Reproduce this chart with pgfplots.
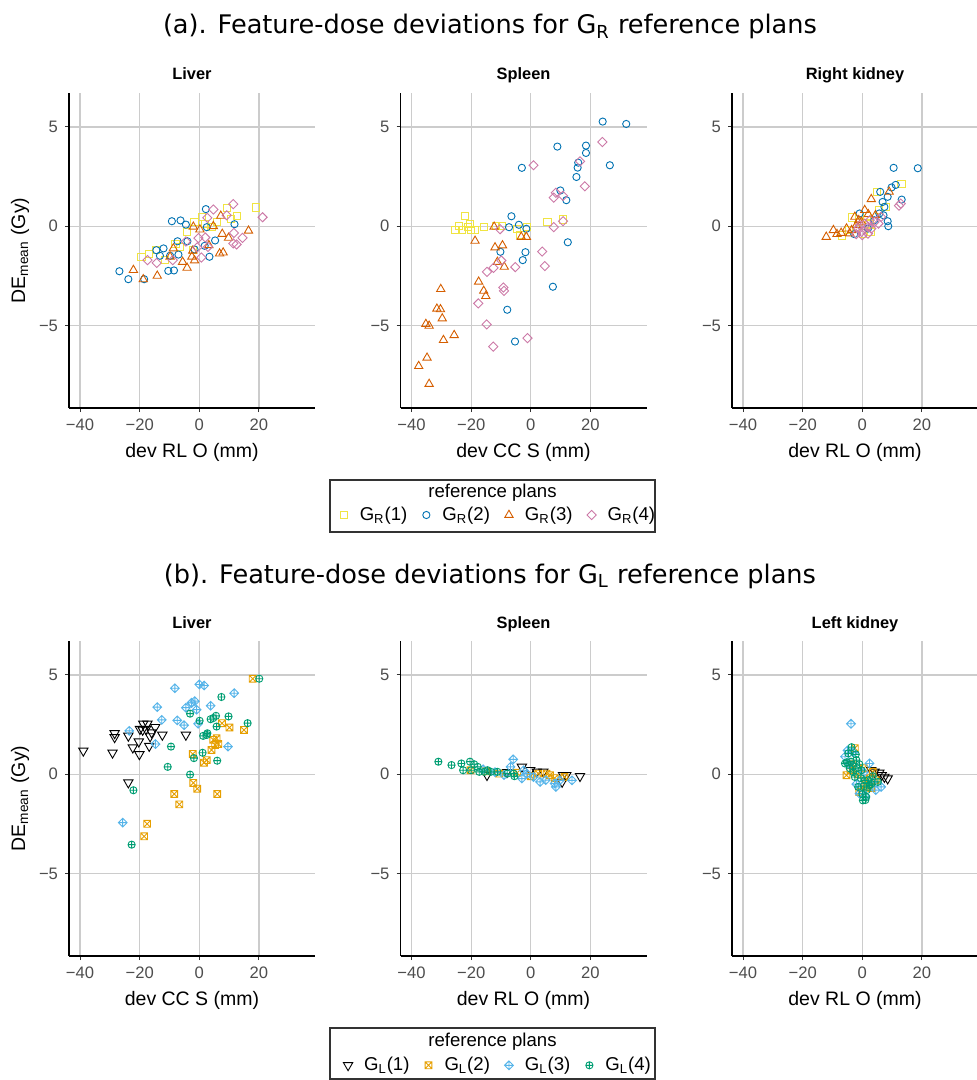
\documentclass[border=0pt]{standalone}
\usepackage{fontspec}
\setmainfont{Liberation Sans}
\newfontfamily\dejavu{DejaVu Sans}
\usepackage{pgfplots}
\pgfplotsset{compat=1.18}
\usetikzlibrary{plotmarks}
\definecolor{cY}{HTML}{F0E442}
\definecolor{cB}{HTML}{0072B2}
\definecolor{cO}{HTML}{D55E00}
\definecolor{cP}{HTML}{CC79A7}
\definecolor{cK}{HTML}{000000}
\definecolor{cA}{HTML}{E69F00}
\definecolor{cS}{HTML}{56B4E9}
\definecolor{cG}{HTML}{009E73}
\definecolor{gridc}{HTML}{CCCCCC}
\definecolor{tickc}{HTML}{4D4D4D}
\pgfdeclareplotmark{rdiamond}{%
 \pgfpathmoveto{\pgfqpoint{0pt}{\pgfplotmarksize}}%
 \pgfpathlineto{\pgfqpoint{\pgfplotmarksize}{0pt}}%
 \pgfpathlineto{\pgfqpoint{0pt}{-\pgfplotmarksize}}%
 \pgfpathlineto{\pgfqpoint{-\pgfplotmarksize}{0pt}}%
 \pgfpathclose\pgfusepathqstroke}
\pgfdeclareplotmark{rdiamondplus}{%
 \pgfpathmoveto{\pgfqpoint{0pt}{\pgfplotmarksize}}%
 \pgfpathlineto{\pgfqpoint{\pgfplotmarksize}{0pt}}%
 \pgfpathlineto{\pgfqpoint{0pt}{-\pgfplotmarksize}}%
 \pgfpathlineto{\pgfqpoint{-\pgfplotmarksize}{0pt}}%
 \pgfpathclose
 \pgfpathmoveto{\pgfqpoint{0pt}{\pgfplotmarksize}}%
 \pgfpathlineto{\pgfqpoint{0pt}{-\pgfplotmarksize}}%
 \pgfpathmoveto{\pgfqpoint{-\pgfplotmarksize}{0pt}}%
 \pgfpathlineto{\pgfqpoint{\pgfplotmarksize}{0pt}}%
 \pgfusepathqstroke}
\pgfdeclareplotmark{squarex}{%
 \pgfpathrectangle{\pgfqpoint{-\pgfplotmarksize}{-\pgfplotmarksize}}{\pgfqpoint{2\pgfplotmarksize}{2\pgfplotmarksize}}%
 \pgfpathmoveto{\pgfqpoint{-\pgfplotmarksize}{-\pgfplotmarksize}}%
 \pgfpathlineto{\pgfqpoint{\pgfplotmarksize}{\pgfplotmarksize}}%
 \pgfpathmoveto{\pgfqpoint{-\pgfplotmarksize}{\pgfplotmarksize}}%
 \pgfpathlineto{\pgfqpoint{\pgfplotmarksize}{-\pgfplotmarksize}}%
 \pgfusepathqstroke}
\pgfdeclareplotmark{dtriangle}{%
 \pgfpathmoveto{\pgfqpoint{0pt}{-\pgfplotmarksize}}%
 \pgfpathlineto{\pgfqpoint{0.866\pgfplotmarksize}{0.5\pgfplotmarksize}}%
 \pgfpathlineto{\pgfqpoint{-0.866\pgfplotmarksize}{0.5\pgfplotmarksize}}%
 \pgfpathclose\pgfusepathqstroke}
\pgfplotsset{
 pts/.style={only marks, line width=0.45pt,
   legend image code/.code={\path[draw=none,fill=none] (-4pt,-3pt) rectangle (4pt,3pt);
     \draw[##1] plot coordinates {(0pt,0pt)};}},
 sY/.style={pts, color=cY, mark=square, mark size=1.8pt},
 sB/.style={pts, color=cB, mark=o, mark size=1.8pt},
 sO/.style={pts, color=cO, mark=triangle, mark size=2.4pt},
 sP/.style={pts, color=cP, mark=rdiamond, mark size=2.3pt},
 sK/.style={pts, color=cK, mark=dtriangle, mark size=2.7pt},
 sA/.style={pts, color=cA, mark=squarex, mark size=1.7pt},
 sS/.style={pts, color=cS, mark=rdiamondplus, mark size=2.2pt},
 sG/.style={pts, color=cG, mark=oplus, mark size=1.8pt},
 panel/.style={
   scale only axis, width=123pt, height=157.5pt,
   xmin=-43.7, xmax=38.8, ymin=-9.16, ymax=6.71,
   axis lines=left, axis line style={-, line width=0.8pt, black},
   xtick={-40,-20,0,20}, xticklabels={−40,−20,0,20},
   ytick={-5,0,5}, yticklabels={−5,0,5},
   tick align=outside, major tick length=2pt,
   tick style={line width=0.5pt, color=black!80},
   grid=major, major grid style={line width=0.65pt, color=gridc},
   tick label style={font=\fontsize{8.3}{10}\selectfont, text=tickc},
   every axis x label/.style={at={(axis description cs:0.5,-0.1397)}, anchor=center, font=\fontsize{9.75}{11}\selectfont},
   every axis y label/.style={at={(axis description cs:-0.199,0.5)}, rotate=90, anchor=center, font=\fontsize{9.75}{11}\selectfont},
   every axis title/.style={at={(axis description cs:0.5,1)}, anchor=base, yshift=6.5pt, font=\bfseries\fontsize{8.2}{10}\selectfont},
   legend columns=4,
   legend style={draw=none, fill=none, inner sep=0pt, column sep=0pt, row sep=0pt,
     font=\fontsize{9.3}{11}\selectfont, nodes={inner sep=0pt},
     /tikz/every odd column/.append style={column sep=4pt},
     /tikz/every even column/.append style={column sep=5.5pt}},
 }
}
\begin{document}
\begin{tikzpicture}
\path[use as bounding box] (0pt,0pt) rectangle (488.5pt,-540pt);
\node[font=\dejavu\fontsize{12.8}{15}\selectfont, anchor=base] at (245pt,-17pt) {(a). Feature-dose deviations for G\textsubscript{R} reference plans};
\node[font=\dejavu\fontsize{12.8}{15}\selectfont, anchor=base] at (245pt,-291.5pt) {(b). Feature-dose deviations for G\textsubscript{L} reference plans};
% ---------- (a) Liver
\begin{axis}[panel, at={(34.5pt,-204pt)}, anchor=south west, title={Liver}, xlabel={dev RL O (mm)}, ylabel={DE\textsubscript{mean} (Gy)}]
\addplot[sY] coordinates {(-19.4,-1.54)(-16.8,-1.38)(-14.5,-1.2)(-11.6,-1.71)(-8.0,-0.9)(-6.5,-1.04)(-4.2,-0.30)(-2.0,-1.2)(-1.6,0.22)(0.8,0.47)(2.0,0.1)(4.1,-0.03)(6.0,0.2)(9.4,0.91)(10.5,0.35)(12.5,0.50)(19.0,0.94)};
\addplot[sB] coordinates {(-26.8,-2.27)(-23.8,-2.67)(-18.5,-2.67)(-14.4,-1.21)(-12.0,-1.12)(-13.2,-1.49)(-9.2,0.25)(-6.3,0.29)(-4.5,0.08)(-10.4,-2.25)(-8.5,-2.23)(-9.8,-1.49)(-7.0,-1.43)(-7.3,-0.76)(-4.0,-0.76)(-1.6,-1.17)(2.2,0.86)(2.5,-0.05)(1.8,-0.99)(3.4,-1.54)(5.3,-0.72)(11.8,0.10)};
\addplot[sO] coordinates {(-22.1,-2.21)(-18.8,-2.68)(-14.1,-2.50)(-8.7,-1.12)(-9.8,-1.54)(-5.6,-1.80)(-4.1,-2.10)(-2.5,-1.54)(-1.6,-1.73)(-2.0,-0.03)(0.2,-0.17)(-2.2,-1.24)(3.2,-0.96)(4.7,0.0)(7.2,0.52)(7.7,-0.39)(6.8,-1.38)(8.0,-1.33)(9.8,-0.59)(16.5,-0.23)};
\addplot[sP] coordinates {(-17.4,-1.71)(-14.3,-1.85)(-8.9,-1.71)(-4.5,-0.77)(-0.7,-1.07)(0.7,-1.58)(2.7,0.42)(4.7,0.84)(11.4,1.11)(21.2,0.45)(2.0,-0.57)(2.9,-1.04)(9.2,0.55)(11.6,-0.34)(11.4,-0.87)(12.5,-0.92)(14.5,-0.59)(-0.3,-0.60)};
\end{axis}
% ---------- (a) Spleen
\begin{axis}[panel, at={(200.25pt,-204pt)}, anchor=south west, title={Spleen}, xlabel={dev CC S (mm)},
  legend style={at={(axis description cs:0.386,-0.3397)}, anchor=center}]
\addplot[sY] coordinates {(-22.2,0.50)(-25.3,-0.17)(-24.2,0.03)(-23.1,-0.17)(-21.1,-0.03)(-20.0,-0.17)(-18.7,-0.17)(-20.5,0.10)(-15.6,-0.03)(-11.8,0.03)(-9.6,0.03)(-4.6,-0.12)(-1.3,-0.03)(5.6,0.22)(10.8,0.34)(-3.5,-0.45)};
\addlegendentry{G\textsubscript{R}(1)}
\addplot[sB] coordinates {(-3.0,2.94)(8.9,4.01)(24.1,5.27)(32.0,5.15)(18.5,4.06)(18.5,3.69)(15.9,3.20)(15.7,2.95)(15.3,2.48)(26.5,3.07)(9.9,1.80)(11.9,1.31)(12.4,-0.81)(-6.5,0.50)(-7.3,-0.05)(-4.0,0.07)(-1.5,-0.13)(-10.2,-1.29)(-1.8,-1.31)(-2.7,-1.71)(7.4,-3.05)(-7.9,-4.21)(-5.3,-5.81)};
\addlegendentry{G\textsubscript{R}(2)}
\addplot[sO] coordinates {(-12.3,-0.03)(-18.7,-0.74)(-12.0,-1.07)(-9.5,-0.97)(-11.2,-1.80)(-8.9,-2.05)(-3.2,-0.54)(-1.5,-0.54)(-17.5,-2.80)(-15.8,-3.26)(-15.1,-3.52)(-30.2,-3.17)(-31.5,-4.16)(-30.3,-4.19)(-29.7,-4.65)(-35.2,-4.93)(-34.1,-5.02)(-29.3,-5.74)(-25.7,-5.49)(-34.8,-6.63)(-37.6,-7.05)(-34.1,-7.95)};
\addlegendentry{G\textsubscript{R}(3)}
\addplot[sP] coordinates {(0.9,3.07)(24.0,4.24)(16.5,3.27)(18.1,2.01)(8.4,1.68)(7.7,1.44)(10.8,1.53)(7.7,-0.05)(10.8,0.25)(-10.3,-0.15)(3.8,-1.28)(4.7,-2.01)(-5.2,-2.06)(-9.9,-1.73)(-12.5,-2.10)(-14.7,-2.30)(-9.2,-3.09)(-9.0,-3.26)(-17.6,-3.89)(-14.8,-4.95)(-12.6,-6.07)(-1.1,-5.64)};
\addlegendentry{G\textsubscript{R}(4)}
\end{axis}
% ---------- (a) Right kidney
\begin{axis}[panel, at={(366pt,-204pt)}, anchor=south west, title={Right kidney}, xlabel={dev RL O (mm)}]
\addplot[sY] coordinates {(13.1,2.11)(4.9,1.73)(7.9,0.97)(-3.6,0.44)(-6.7,-0.47)(2.4,0.13)(0.2,-0.37)(3.0,-0.29)(-1.0,0.2)(5.5,0.8)(-4.5,-0.2)(1.5,0.5)};
\addplot[sB] coordinates {(10.5,2.94)(18.6,2.92)(11.2,2.08)(9.8,1.95)(6.0,1.73)(8.5,1.48)(6.8,1.22)(13.2,1.34)(7.4,0.97)(5.7,0.64)(7.1,0.55)(-0.9,0.64)(8.5,0.25)(8.7,0.0)(-2.7,-0.40)(1.9,-0.12)(4.0,0.3)};
\addplot[sO] coordinates {(-12.1,-0.54)(-9.7,-0.20)(-7.1,-0.34)(-5.3,-0.12)(-3.6,-0.20)(-2.5,0.47)(0.8,0.81)(3.0,1.36)(-0.3,0.22)(-2.0,0.05)(9.0,1.73)(4.4,0.55)(-4.2,-0.37)(-8.5,-0.4)(-1.2,0.3)(2.0,0.6)};
\addplot[sP] coordinates {(12.9,1.14)(12.3,1.04)(1.9,-0.03)(-0.3,-0.29)(0.8,0.13)(3.0,-0.12)(-2.0,-0.40)(6.3,0.47)(4.1,0.22)(5.4,0.13)(1.9,-0.37)(-1.4,-0.12)(0.0,-0.45)(2.5,0.3)(-0.8,0.05)};
\end{axis}
% ---------- (b) Liver
\begin{axis}[panel, at={(34.5pt,-478pt)}, anchor=south west, title={Liver}, xlabel={dev CC S (mm)}, ylabel={DE\textsubscript{mean} (Gy)}]
\addplot[sK] coordinates {(-38.9,1.18)(-29.1,1.08)(-28.4,2.06)(-28.4,1.86)(-23.8,1.93)(-22.3,1.34)(-20.3,1.64)(-20.1,1.00)(-18.8,2.54)(-17.4,2.54)(-19.9,2.27)(-19.0,2.23)(-17.9,2.27)(-16.5,1.90)(-16.8,1.42)(-14.8,2.37)(-12.4,1.98)(-4.5,1.98)(-23.8,-0.42)(-16.0,2.1)};
\addplot[sA] coordinates {(17.9,4.81)(7.6,2.57)(10.1,2.35)(15.0,2.23)(5.8,1.81)(5.3,1.47)(4.1,1.22)(6.4,1.52)(4.7,1.73)(-2.2,1.02)(2.5,0.71)(1.6,0.58)(-2.0,-0.44)(-0.7,-0.73)(-8.4,-1.00)(-6.7,-1.52)(6.0,-1.00)(-17.5,-2.50)(-18.5,-3.13)};
\addplot[sS] coordinates {(0.0,4.52)(1.6,4.47)(-8.2,4.33)(11.7,4.08)(-2.6,3.60)(-1.5,3.68)(-14.1,3.38)(-4.5,3.35)(-2.6,3.59)(3.8,3.45)(-0.9,3.25)(-12.6,2.74)(-7.4,2.71)(-5.1,2.47)(-0.4,2.54)(-23.5,2.18)(-14.7,1.52)(9.6,1.39)(-25.7,-2.44)};
\addplot[sG] coordinates {(20.1,4.81)(7.4,3.89)(-3.1,3.05)(0.1,2.69)(3.8,2.77)(5.6,2.94)(9.8,2.91)(16.2,2.57)(5.8,2.40)(2.7,2.06)(1.3,1.93)(-9.5,1.39)(1.1,1.08)(-1.8,0.81)(6.0,0.68)(-10.6,0.37)(-3.1,-0.02)(-22.1,-0.81)(-22.7,-3.55)(4.7,2.83)(2.5,1.98)};
\end{axis}
% ---------- (b) Spleen
\begin{axis}[panel, at={(200.25pt,-478pt)}, anchor=south west, title={Spleen}, xlabel={dev RL O (mm)},
  legend style={at={(axis description cs:0.386,-0.347)}, anchor=center}]
\addplot[sK] coordinates {(-14.7,-0.05)(-3.0,0.37)(-0.2,0.20)(2.0,0.12)(4.2,0.12)(10.8,-0.05)(11.9,-0.05)(16.5,-0.10)(10.5,-0.39)(-8.0,0.1)};
\addlegendentry{G\textsubscript{L}(1)}
\addplot[sA] coordinates {(-20.2,0.20)(-10.7,0.03)(-4.6,0.07)(2.5,0.03)(5.3,0.03)(6.4,-0.05)(11.3,-0.14)(-15.0,0.15)(0.0,-0.1)(8.0,-0.2)};
\addlegendentry{G\textsubscript{L}(2)}
\addplot[sS] coordinates {(-5.9,0.75)(-6.8,0.37)(-2.4,0.20)(-3.0,-0.22)(0.9,-0.14)(3.1,-0.39)(8.0,-0.47)(8.4,-0.64)(9.7,-0.31)(13.8,-0.31)(-9.0,-0.05)(-1.3,0.03)(-12.0,0.1)(5.0,-0.3)(-16.0,0.25)};
\addlegendentry{G\textsubscript{L}(3)}
\addplot[sG] coordinates {(-31.0,0.63)(-26.6,0.46)(-23.3,0.54)(-20.4,0.63)(-22.7,0.20)(-20.0,0.20)(-17.3,0.12)(-15.6,0.12)(-13.4,0.12)(-11.2,0.12)(-5.7,0.03)(-7.9,0.03)(-17.8,0.37)(-14.5,0.20)(-19.0,0.5)(-5.5,-0.1)};
\addlegendentry{G\textsubscript{L}(4)}
\end{axis}
% ---------- (b) Left kidney
\begin{axis}[panel, at={(366pt,-478pt)}, anchor=south west, title={Left kidney}, xlabel={dev RL O (mm)}]
\addplot[sK] coordinates {(4.1,0.12)(5.7,0.07)(7.4,-0.14)(8.5,-0.22)(6.5,-0.05)(3.0,0.2)};
\addplot[sA] coordinates {(-2.5,1.31)(-5.3,-0.05)(3.5,0.12)(1.9,-0.64)(-3.5,0.5)(0.5,0.3)(4.5,-0.3)(-1.0,-0.9)(2.5,-0.2)(-4.0,0.2)(-1.5,0.0)(1.0,-0.5)(3.0,-0.7)};
\addplot[sS] coordinates {(-3.8,2.54)(2.4,0.54)(-0.9,-0.98)(-5.8,0.88)(6.3,-0.64)(-4.5,0.5)(0.5,0.1)(-2.0,-0.5)(3.5,-0.4)(1.0,-1.1)(-3.0,1.1)(-5.0,1.2)(4.5,-0.8)};
\addplot[sG] coordinates {(-3.6,1.36)(-4.7,1.05)(-5.8,0.54)(-3.8,0.63)(-2.0,0.71)(-0.3,0.20)(-2.5,-0.14)(0.8,-0.31)(0.2,-1.32)(1.3,-1.15)(2.4,-0.56)(5.2,-0.39)(-1.4,-0.64)(-4.2,0.3)(-1.0,0.5)(1.5,-0.8)(-3.0,0.1)(0.0,-1.0)(3.5,-0.1)(-2.2,1.0)(-5.2,0.6)(-3.2,0.4)(-0.5,-0.2)(0.5,-0.6)(2.0,-0.3)(-1.8,0.3)(1.0,-1.3)(3.0,-0.5)};
\end{axis}
% legend frames and titles
\draw[line width=0.6pt, color=black!80] (165pt,-240pt) rectangle (327.5pt,-266pt);
\node[font=\fontsize{9.3}{11}\selectfont] at (246.25pt,-246.5pt) {reference plans};
\draw[line width=0.6pt, color=black!80] (165pt,-514pt) rectangle (327.5pt,-539.5pt);
\node[font=\fontsize{9.3}{11}\selectfont] at (246.25pt,-521pt) {reference plans};
\end{tikzpicture}
\end{document}
